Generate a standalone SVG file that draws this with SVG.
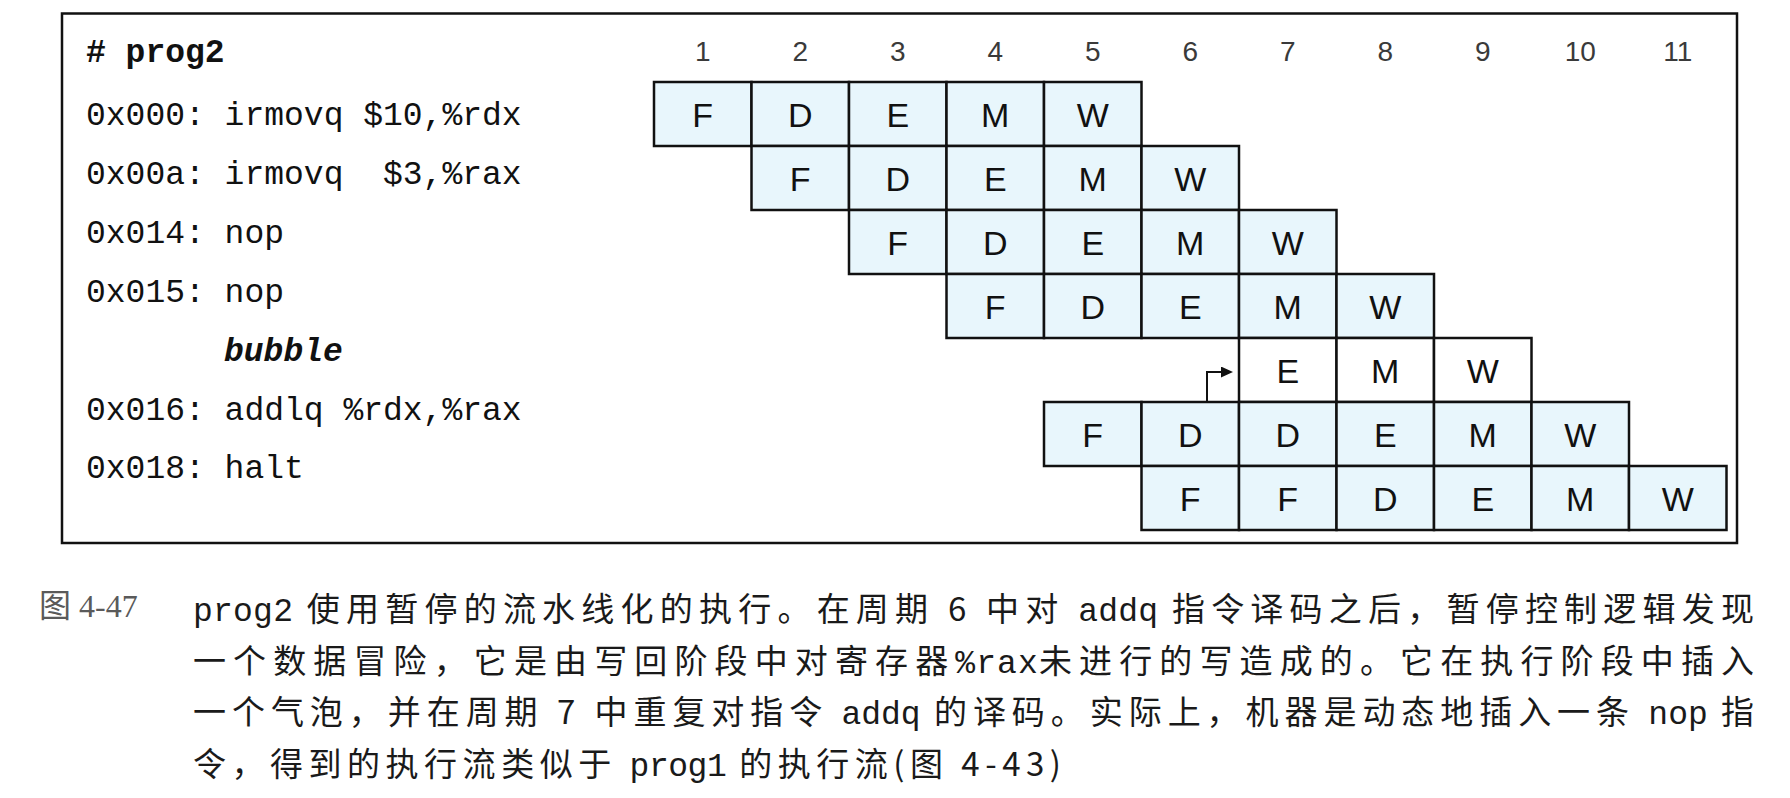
<svg xmlns="http://www.w3.org/2000/svg" width="1790" height="798" viewBox="0 0 1790 798">
<style>
.code{font-family:"Liberation Mono","Courier New",monospace;font-size:33px;fill:#111;white-space:pre;}
.cyc{font-family:"Liberation Sans",Arial,sans-serif;font-size:28px;fill:#3a3a3a;text-anchor:middle;}
.st{font-family:"Liberation Sans",Arial,sans-serif;font-size:34px;fill:#111;text-anchor:middle;}
.cell{fill:#e8f6fc;stroke:#111;stroke-width:2.5;}
.wcell{fill:#ffffff;stroke:#111;stroke-width:2.5;}
.cap{font-family:"Noto Sans CJK SC",sans-serif;font-size:33px;fill:#1a1a1a;letter-spacing:6px;}
.mono{font-family:"Liberation Mono","Noto Sans CJK SC",monospace;letter-spacing:0px;}
.conn{fill:none;stroke:#111;stroke-width:2;}
</style>
<defs>
<marker id="ah" viewBox="0 0 12 11" refX="0" refY="5.5" markerWidth="12" markerHeight="11" markerUnits="userSpaceOnUse" orient="auto">
<path d="M0,0 L12,5.5 L0,11 z" fill="#111"/>
</marker>
</defs>
<rect x="62" y="13.5" width="1675" height="529.5" fill="#fff" stroke="#111" stroke-width="2.5"/>
<g id="code" class="code">
<text xml:space="preserve" x="86" y="61.7" font-weight="bold"># prog2</text>
<text xml:space="preserve" x="86" y="125">0x000: irmovq $10,%rdx</text>
<text xml:space="preserve" x="86" y="183.9">0x00a: irmovq  $3,%rax</text>
<text xml:space="preserve" x="86" y="242.8">0x014: nop</text>
<text xml:space="preserve" x="86" y="301.7">0x015: nop</text>
<text xml:space="preserve" x="224" y="360.6" font-weight="bold" font-style="italic">bubble</text>
<text xml:space="preserve" x="86" y="419.5">0x016: addlq %rdx,%rax</text>
<text xml:space="preserve" x="86" y="478.4">0x018: halt</text>
</g>
<g id="cycles" class="cyc">
<text x="702.75" y="60.5">1</text>
<text x="800.25" y="60.5">2</text>
<text x="897.75" y="60.5">3</text>
<text x="995.25" y="60.5">4</text>
<text x="1092.75" y="60.5">5</text>
<text x="1190.25" y="60.5">6</text>
<text x="1287.75" y="60.5">7</text>
<text x="1385.25" y="60.5">8</text>
<text x="1482.75" y="60.5">9</text>
<text x="1580.25" y="60.5">10</text>
<text x="1677.75" y="60.5">11</text>
</g>
<g id="row1">
<rect class="cell" x="654" y="82" width="97.5" height="64"/>
<rect class="cell" x="751.5" y="82" width="97.5" height="64"/>
<rect class="cell" x="849" y="82" width="97.5" height="64"/>
<rect class="cell" x="946.5" y="82" width="97.5" height="64"/>
<rect class="cell" x="1044" y="82" width="97.5" height="64"/>
<text class="st" x="702.75" y="126.5">F</text>
<text class="st" x="800.25" y="126.5">D</text>
<text class="st" x="897.75" y="126.5">E</text>
<text class="st" x="995.25" y="126.5">M</text>
<text class="st" x="1092.75" y="126.5">W</text>
</g>
<g id="row2">
<rect class="cell" x="751.5" y="146" width="97.5" height="64"/>
<rect class="cell" x="849" y="146" width="97.5" height="64"/>
<rect class="cell" x="946.5" y="146" width="97.5" height="64"/>
<rect class="cell" x="1044" y="146" width="97.5" height="64"/>
<rect class="cell" x="1141.5" y="146" width="97.5" height="64"/>
<text class="st" x="800.25" y="190.5">F</text>
<text class="st" x="897.75" y="190.5">D</text>
<text class="st" x="995.25" y="190.5">E</text>
<text class="st" x="1092.75" y="190.5">M</text>
<text class="st" x="1190.25" y="190.5">W</text>
</g>
<g id="row3">
<rect class="cell" x="849" y="210" width="97.5" height="64"/>
<rect class="cell" x="946.5" y="210" width="97.5" height="64"/>
<rect class="cell" x="1044" y="210" width="97.5" height="64"/>
<rect class="cell" x="1141.5" y="210" width="97.5" height="64"/>
<rect class="cell" x="1239" y="210" width="97.5" height="64"/>
<text class="st" x="897.75" y="254.5">F</text>
<text class="st" x="995.25" y="254.5">D</text>
<text class="st" x="1092.75" y="254.5">E</text>
<text class="st" x="1190.25" y="254.5">M</text>
<text class="st" x="1287.75" y="254.5">W</text>
</g>
<g id="row4">
<rect class="cell" x="946.5" y="274" width="97.5" height="64"/>
<rect class="cell" x="1044" y="274" width="97.5" height="64"/>
<rect class="cell" x="1141.5" y="274" width="97.5" height="64"/>
<rect class="cell" x="1239" y="274" width="97.5" height="64"/>
<rect class="cell" x="1336.5" y="274" width="97.5" height="64"/>
<text class="st" x="995.25" y="318.5">F</text>
<text class="st" x="1092.75" y="318.5">D</text>
<text class="st" x="1190.25" y="318.5">E</text>
<text class="st" x="1287.75" y="318.5">M</text>
<text class="st" x="1385.25" y="318.5">W</text>
</g>
<g id="bubble">
<rect class="wcell" x="1239" y="338" width="97.5" height="64"/>
<rect class="wcell" x="1336.5" y="338" width="97.5" height="64"/>
<rect class="wcell" x="1434" y="338" width="97.5" height="64"/>
<text class="st" x="1287.75" y="382.5">E</text>
<text class="st" x="1385.25" y="382.5">M</text>
<text class="st" x="1482.75" y="382.5">W</text>
</g>
<g id="row6">
<rect class="cell" x="1044" y="402" width="97.5" height="64"/>
<rect class="cell" x="1141.5" y="402" width="97.5" height="64"/>
<rect class="cell" x="1239" y="402" width="97.5" height="64"/>
<rect class="cell" x="1336.5" y="402" width="97.5" height="64"/>
<rect class="cell" x="1434" y="402" width="97.5" height="64"/>
<rect class="cell" x="1531.5" y="402" width="97.5" height="64"/>
<text class="st" x="1092.75" y="446.5">F</text>
<text class="st" x="1190.25" y="446.5">D</text>
<text class="st" x="1287.75" y="446.5">D</text>
<text class="st" x="1385.25" y="446.5">E</text>
<text class="st" x="1482.75" y="446.5">M</text>
<text class="st" x="1580.25" y="446.5">W</text>
</g>
<g id="row7">
<rect class="cell" x="1141.5" y="466" width="97.5" height="64"/>
<rect class="cell" x="1239" y="466" width="97.5" height="64"/>
<rect class="cell" x="1336.5" y="466" width="97.5" height="64"/>
<rect class="cell" x="1434" y="466" width="97.5" height="64"/>
<rect class="cell" x="1531.5" y="466" width="97.5" height="64"/>
<rect class="cell" x="1629" y="466" width="97.5" height="64"/>
<text class="st" x="1190.25" y="510.5">F</text>
<text class="st" x="1287.75" y="510.5">F</text>
<text class="st" x="1385.25" y="510.5">D</text>
<text class="st" x="1482.75" y="510.5">E</text>
<text class="st" x="1580.25" y="510.5">M</text>
<text class="st" x="1677.75" y="510.5">W</text>
</g>
<g id="connectors">
<path class="conn" d="M1207,401 V372 H1221" marker-end="url(#ah)"/>
</g>
<g id="caption">
<text x="39" y="617" font-family="Liberation Serif,'Noto Sans CJK SC',serif" font-size="32" fill="#5a5a5a" xml:space="preserve">图 4-47</text>
<text class="cap" x="193" y="621" textLength="1567" lengthAdjust="spacing"><tspan class="mono">prog2</tspan> 使用暂停的流水线化的执行。在周期 6 中对 <tspan class="mono">addq</tspan> 指令译码之后，暂停控制逻辑发现</text>
<text class="cap" x="193" y="672.7" textLength="1567" lengthAdjust="spacing">一个数据冒险，它是由写回阶段中对寄存器<tspan class="mono">%rax</tspan>未进行的写造成的。它在执行阶段中插入</text>
<text class="cap" x="193" y="724.4" textLength="1567" lengthAdjust="spacing">一个气泡，并在周期 7 中重复对指令 <tspan class="mono">addq</tspan> 的译码。实际上，机器是动态地插入一条 <tspan class="mono">nop</tspan> 指</text>
<text class="cap" x="193" y="776" textLength="874" lengthAdjust="spacing">令，得到的执行流类似于 <tspan class="mono">prog1</tspan> 的执行流(图 4-43)</text>
</g>
</svg>
